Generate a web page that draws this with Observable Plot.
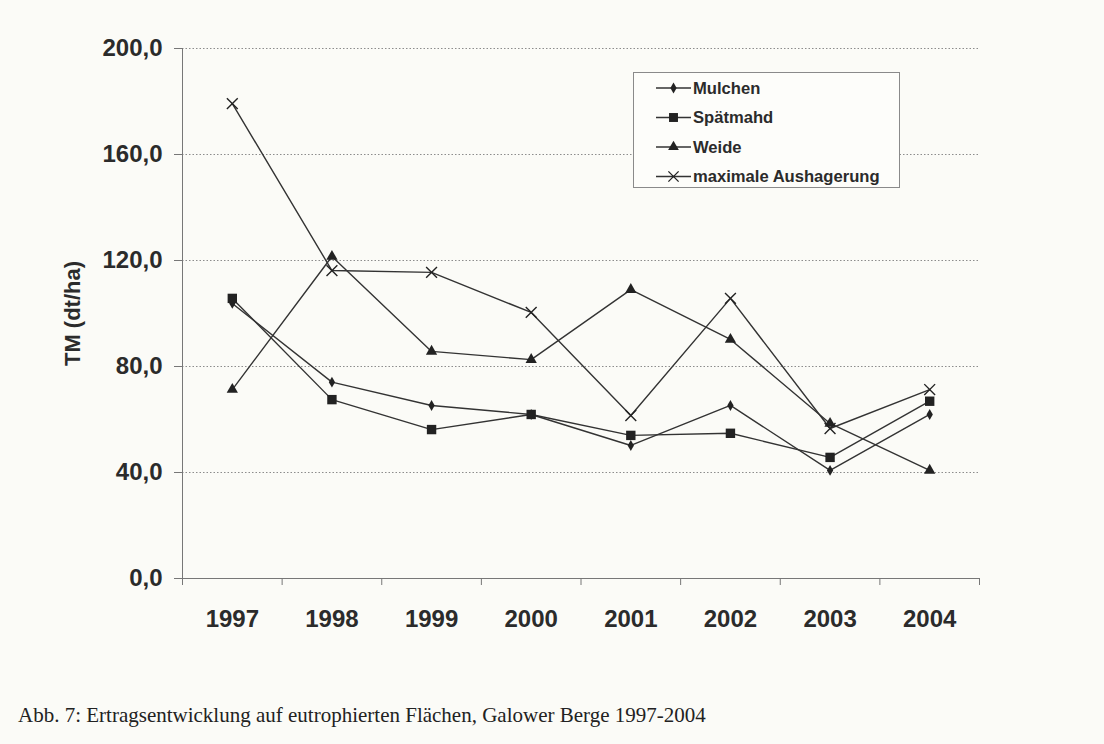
<!DOCTYPE html>
<html><head><meta charset="utf-8">
<script src="https://cdn.jsdelivr.net/npm/d3@7"></script>
<script src="https://cdn.jsdelivr.net/npm/@observablehq/plot@0.6"></script>
<style>
body{margin:0;background:#fbfbf7;font-family:"Liberation Sans",Arial,sans-serif;}
#wrap{position:relative;width:1104px;height:744px;overflow:hidden;}
#chart{position:absolute;left:0;top:0;}
#legend{position:absolute;left:633px;top:72px;width:267px;height:116px;border:1px solid #8a8a8a;background:#fdfdfa;box-sizing:border-box;}
#caption{position:absolute;left:18px;top:703px;font-family:"Liberation Serif","Times New Roman",serif;font-size:21px;color:#222;white-space:nowrap;}
</style></head>
<body>
<div id="wrap">
  <div id="chart"></div>
  <div id="legend"></div>
  <div id="caption">Abb. 7: Ertragsentwicklung auf eutrophierten Flächen, Galower Berge 1997-2004</div>
</div>
<script>
const years = [1997, 1998, 1999, 2000, 2001, 2002, 2003, 2004];
const mulchen = [103.8, 74.1, 65.3, 61.9, 50.2, 65.3, 40.8, 61.9];
const spaetmahd = [105.7, 67.5, 56.2, 61.9, 54.0, 54.8, 45.7, 66.9];
const weide = [71.3, 121.5, 85.7, 82.6, 109.0, 90.2, 58.5, 40.8];
const aushagerung = [179.2, 116.2, 115.5, 100.4, 61.5, 105.7, 56.6, 71.3];
const seriesNames = ["Mulchen", "Spätmahd", "Weide", "maximale Aushagerung"];
const yTicks = [0, 40, 80, 120, 160, 200];
const gridTicks = [40, 80, 120, 160, 200];
const xBoundaries = [1996.5, 1997.5, 1998.5, 1999.5, 2000.5, 2001.5, 2002.5, 2003.5, 2004.5];
const yLabel = "TM (dt/ha)";

const seriesValues = [mulchen, spaetmahd, weide, aushagerung];
const data = [];
seriesNames.forEach((s, i) => years.forEach((y, j) => data.push({series: s, year: y, value: seriesValues[i][j]})));
const of = s => data.filter(d => d.series === s);

const ink = "#2b2b2b";
const fmt = d => d.toFixed(1).replace(".", ",");

const chart = Plot.plot({
  width: 1104, height: 640,
  marginLeft: 182, marginRight: 125, marginTop: 48, marginBottom: 62,
  x: {domain: [1996.5, 2004.5]},
  y: {domain: [0, 200]},
  style: {background: "transparent", color: ink, fontFamily: "'Liberation Sans', Arial, sans-serif"},
  marks: [
    Plot.gridY(gridTicks, {stroke: "#8c8c8c", strokeOpacity: 1, strokeDasharray: "1.5,2"}),
    Plot.axisY(yTicks, {tickSize: 8, tickPadding: 12, tickFormat: fmt, fontSize: 24, fontWeight: "bold", label: null, stroke: "#777"}),
    Plot.ruleX([1996.5], {stroke: "#777"}),
    Plot.ruleY([0], {stroke: "#777"}),
    Plot.axisX(xBoundaries, {tickSize: 7, tickFormat: () => "", stroke: "#777", label: null}),
    Plot.axisX(years, {tickSize: 0, tickPadding: 31, tickFormat: d => String(d), fontSize: 24, fontWeight: "bold", label: null}),
    Plot.text([yLabel], {frameAnchor: "left", dx: -110, rotate: -90, textAnchor: "middle", fontSize: 22, fontWeight: "bold", fill: ink}),
    Plot.line(data, {x: "year", y: "value", z: "series", stroke: "#333", strokeWidth: 1.4}),
    Plot.dot(of("Mulchen"), {x: "year", y: "value", symbol: "diamond", r: 3.3, fill: "#222"}),
    Plot.dot(of("Spätmahd"), {x: "year", y: "value", symbol: "square", r: 5.3, fill: "#222"}),
    Plot.dot(of("Weide"), {x: "year", y: "value", symbol: "triangle", r: 4.2, fill: "#222"}),
    Plot.dot(of("maximale Aushagerung"), {x: "year", y: "value", symbol: "times", r: 5, stroke: "#222", strokeWidth: 1.4, fill: "none"})
  ]
});
document.getElementById("chart").append(chart);

// Legend
const symbols = [
  {type: d3.symbolDiamond, size: 34, fill: "#222", stroke: "none"},
  {type: d3.symbolSquare, size: 80, fill: "#222", stroke: "none"},
  {type: d3.symbolTriangle, size: 50, fill: "#222", stroke: "none"},
  {type: d3.symbolTimes, size: 70, fill: "none", stroke: "#222"}
];
const leg = d3.select("#legend").append("svg").attr("width", 265).attr("height", 114)
  .style("font-family", "'Liberation Sans', Arial, sans-serif");
seriesNames.forEach((s, i) => {
  const y = 15 + i * 29.5;
  const g = leg.append("g").attr("transform", `translate(0,${y})`);
  g.append("line").attr("x1", 22).attr("x2", 57).attr("y1", 0).attr("y2", 0).attr("stroke", "#333").attr("stroke-width", 1.4);
  g.append("path").attr("transform", "translate(39.5,0)").attr("d", d3.symbol(symbols[i].type, symbols[i].size)())
    .attr("fill", symbols[i].fill).attr("stroke", symbols[i].stroke).attr("stroke-width", 1.3);
  g.append("text").attr("x", 59).attr("y", 0).attr("dy", "0.35em").attr("font-size", 16.6).attr("font-weight", "bold")
    .attr("fill", ink).text(s);
});
</script>
</body></html>
